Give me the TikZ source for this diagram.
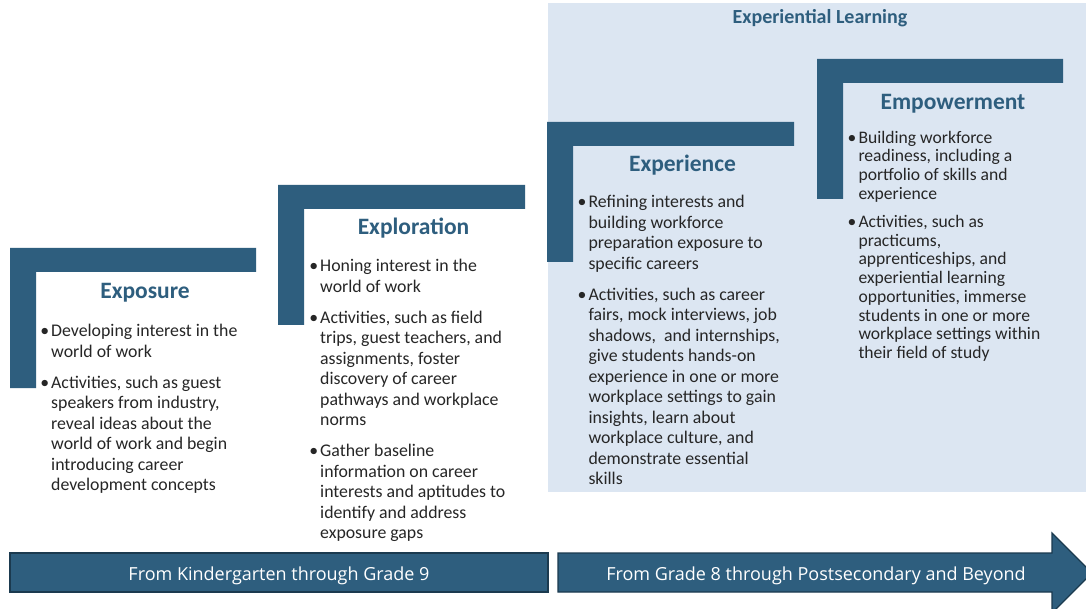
\documentclass[tikz,border=0pt]{standalone}
\usepackage{fontspec}
\setmainfont{Carlito}
\newfontfamily\barfont{Open Sans}
\definecolor{stepblue}{HTML}{2E5E7E}
\definecolor{edgeblue}{HTML}{1B3A4F}
\definecolor{paleblue}{HTML}{DCE6F2}
\definecolor{bodytext}{HTML}{262626}
% hanging bullet for the step descriptions
\newcommand{\bul}{\leavevmode\llap{\textbullet\hspace{2pt}}}
% stair-step corner: top-left (#1,#2), width #3
\newcommand{\stairstep}[3]{%
  \fill[stepblue] (#1,#2) -- ++(#3,0) -- ++(0,24) -- ++(-#3+26,0) -- ++(0,116) -- ++(-26,0) -- cycle;}
\tikzset{
  phase/.style={font=\bfseries\fontsize{23.5}{27}\selectfont, text=stepblue, anchor=base, inner sep=0pt},
  body/.style={anchor=base west, inner sep=0pt, text=bodytext},
  bartext/.style={text=white, font=\barfont\fontsize{18}{21}\selectfont, inner sep=0pt, anchor=base},
  barshape/.style={fill=stepblue, draw=edgeblue, line width=1.2pt},
}
\begin{document}
\begin{tikzpicture}[x=1pt, y=-1pt]
\useasboundingbox (0,0) rectangle (1086,609);
\clip (0,0) rectangle (1086,609);
\fill[white] (0,0) rectangle (1086,609);

% experiential learning backdrop
\fill[paleblue] (548,3) rectangle (1090,492);
\node[font=\bfseries\fontsize{20}{24}\selectfont, text=stepblue, anchor=base, inner sep=0pt] (xlearn) at (820,24) {Experiential Learning};

% stair steps
\stairstep{10}{248}{246}
\stairstep{278}{185}{247}
\stairstep{547}{122}{247}
\stairstep{817}{59}{246}

% titles
\node[phase] (exposure) at (145,298.5) {Exposure};
\node[phase] (exploration) at (413.5,234.3) {Exploration};
\node[phase] (experience) at (682.5,172) {Experience};
\node[phase] (empowerment) at (953,109.3) {Empowerment};

% descriptions
\node[body] (exposuretext) at (51,336.7) {\parbox[t]{260pt}{\fontsize{17.8}{20.5}\selectfont\setlength{\parskip}{10.5pt}\raggedright
\bul Developing interest in the\\world of work\par
\bul Activities, such as guest\\speakers from industry,\\reveal ideas about the\\world of work and begin\\introducing career\\development concepts}};

\node[body] (explorationtext) at (320,271.7) {\parbox[t]{260pt}{\fontsize{17.8}{20.5}\selectfont\setlength{\parskip}{10.5pt}\raggedright
\bul Honing interest in the\\world of work\par
\bul Activities, such as field\\trips, guest teachers, and\\assignments, foster\\discovery of career\\pathways and workplace\\norms\par
\bul Gather baseline\\information on career\\interests and aptitudes to\\identify and address\\exposure gaps}};

\node[body] (experiencetext) at (588.3,207.7) {\parbox[t]{260pt}{\fontsize{17.8}{20.5}\selectfont\setlength{\parskip}{10.5pt}\raggedright
\bul Refining interests and\\building workforce\\preparation exposure to\\specific careers\par
\bul Activities, such as career\\fairs, mock interviews, job\\shadows, \ and internships,\\give students hands-on\\experience in one or more\\workplace settings to gain\\insights, learn about\\workplace culture, and\\demonstrate essential\\skills}};

\node[body] (empowermenttext) at (858.3,143.3) {\parbox[t]{230pt}{\fontsize{17.6}{18.7}\selectfont\setlength{\parskip}{9.5pt}\raggedright
\bul Building workforce\\readiness, including a\\portfolio of skills and\\experience\par
\bul Activities, such as\\practicums,\\apprenticeships, and\\experiential learning\\opportunities, immerse\\students in one or more\\workplace settings within\\their field of study}};

% grade-band bars
\draw[barshape] (10,553) rectangle (548,592);
\node[bartext] (k9) at (279,580) {From Kindergarten through Grade 9};
\draw[barshape] (558,553) -- (1052,553) -- (1052,533) -- (1092,573) -- (1052,613) -- (1052,592) -- (558,592) -- cycle;
\node[bartext] (postsec) at (816,580) {From Grade 8 through Postsecondary and Beyond};
\end{tikzpicture}
\end{document}
